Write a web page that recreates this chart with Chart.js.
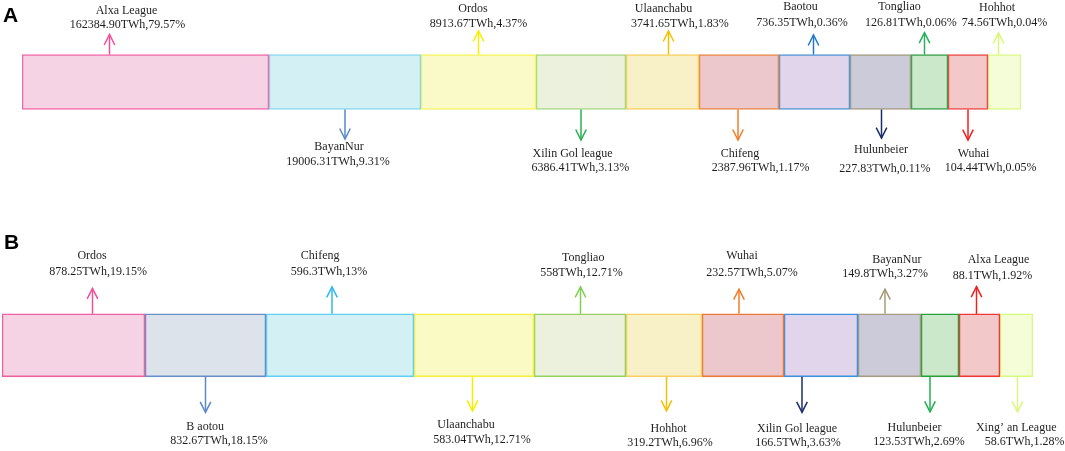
<!DOCTYPE html>
<html>
<head>
<meta charset="utf-8">
<script src="https://cdn.jsdelivr.net/npm/chart.js@4.4.0/dist/chart.umd.min.js"></script>
<style>
  html, body { margin: 0; padding: 0; background: #fff; }
  #wrap { position: relative; width: 1065px; height: 451px; overflow: hidden; }
  .panel { position: absolute; left: 0; width: 1065px; }
</style>
</head>
<body>
<div id="wrap">
  <div class="panel" style="top:0;height:200px"><canvas id="chartA"></canvas></div>
  <div class="panel" style="top:200px;height:251px"><canvas id="chartB"></canvas></div>
</div>
<script>
// ---- panel A ----
const regionsA = ['Alxa League', 'BayanNur', 'Ordos', 'Xilin Gol league', 'Ulaanchabu', 'Chifeng',
  'Baotou', 'Hulunbeier', 'Tongliao', 'Wuhai', 'Hohhot']
const energyA = [162384.90, 19006.31, 8913.67, 6386.41, 3741.65, 2387.96, 736.35, 227.83, 126.81, 104.44, 74.56]
const shareA = [79.57, 9.31, 4.37, 3.13, 1.83, 1.17, 0.36, 0.11, 0.06, 0.05, 0.04]
// box lengths as drawn in the figure (not proportional to the values)
const boxA = [247, 152, 115, 90, 73, 80, 71, 61, 37, 40, 33]

// ---- panel B ----
const regionsB = ['Ordos', 'B aotou', 'Chifeng', 'Ulaanchabu', 'Tongliao', 'Hohhot', 'Wuhai',
  'Xilin Gol league', 'BayanNur', 'Hulunbeier', 'Alxa League', 'Xing’ an League']
const energyB = [878.25, 832.67, 596.3, 583.04, 558, 319.2, 232.57, 166.5, 149.8, 123.53, 88.1, 58.6]
const shareB = [19.15, 18.15, 13, 12.71, 12.71, 6.96, 5.07, 3.63, 3.27, 2.69, 1.92, 1.28]
const boxB = [143, 121, 148, 120, 92, 76, 82, 74, 63, 38, 41, 33]

// styles
const fillA = ['#f5d3e5', '#d3f1f4', '#fafac8', '#ebf1dd', '#f8f1c8', '#ecc8cc', '#e0d5ea', '#cbcbd9', '#cbe8cb', '#f3c8c8', '#f5fdd8']
const edgeA = ['#f06aa8', '#88d8f0', '#f5f560', '#a8d880', '#f8d060', '#eb8848', '#5098d8', '#a49c80', '#38a048', '#f04848', '#dcf888']
const arrowA = ['#f0509a', '#5a88c8', '#f5f000', '#28b050', '#f5c000', '#f07c28', '#1f78d0', '#1c2c70', '#28b060', '#f02020', '#d8f870']

const fillB = ['#f5d3e5', '#dde3eb', '#d3f1f4', '#fafac4', '#ebf1dd', '#f8f1c8', '#ecc8cc', '#e0d5ea', '#cbcbd9', '#cbe8cb', '#f3c8c8', '#f5fdd8']
const edgeB = ['#f060a0', '#6890c8', '#60d0f8', '#f5f040', '#98d060', '#f8d060', '#eb7838', '#4090e0', '#a49c80', '#28a038', '#f03838', '#d8f880']
const arrowB = ['#f0509a', '#5a88c8', '#30b8f0', '#f5f000', '#80d050', '#f5c000', '#f07c28', '#1c2c70', '#a49c78', '#20b050', '#f02020', '#d8f880']

// callout layout: [arrow dx, name dx, value dx, arrow length, name offset, value offset] (px from box centre / edge)
const calloutA = [
  [-36, -19, -18, 20, 43.8, 30.1],
  [0, -6, -7, 29.5, 37.2, 52.2],
  [0, -5.5, 0, 23.5, 46.1, 31.1],
  [0, -8.5, -0.7, 30.5, 44.5, 57.9],
  [6, 1, 17.3, 23.5, 46.1, 31.1],
  [-1, 1, 21.6, 30.5, 44.5, 57.9],
  [-1, -14, -12.5, 19.5, 47.8, 31.8],
  [1, 0.5, 4.3, 28.7, 40.5, 58.9],
  [-5, -30, -18.7, 21.8, 47.8, 31.8],
  [0, 5.5, 22.6, 30.7, 44.5, 57.9],
  [-6, -7.5, 0, 21.5, 47.1, 31.8]
]
const calloutB = [
  [19, 18.6, 24.6, 25.4, 57.9, 42.2],
  [0, -0.3, 13.5, 35.6, 50, 64],
  [-8, -19.8, -11, 27, 57.9, 42.2],
  [-1.5, -8, 8, 34, 48, 63.4],
  [0.5, 3.2, 1.5, 27, 56.2, 41.5],
  [2.5, 4.5, 6, 34, 52.3, 65.7],
  [-4, -1, 9, 24.8, 57.9, 41.5],
  [-19, -24, -23, 35.6, 52.3, 65.7],
  [-4.5, 7.3, -4.3, 24.7, 53.9, 39.8],
  [-10, -25.5, -21, 35, 50.7, 65],
  [-3, 19, 13, 27.3, 54.5, 37.8],
  [1, -0.3, 8.2, 35, 50.7, 65]
]

const calloutPlugin = {
  id: 'callouts',
  afterDatasetsDraw(chart, args, opts) {
    let ctx = chart.ctx
    ctx.save()
    chart.data.datasets.forEach((ds, i) => {
      let bar = chart.getDatasetMeta(i).data[0]
      let { x, base, y, height } = bar.getProps(['x', 'base', 'y', 'height'], true)
      let cx = (x + base) / 2
      let L = opts.layout[i]
      let up = i % 2 === 0
      let dir = up ? -1 : 1
      let y0 = up ? y - height / 2 : y + height / 2
      let ax = cx + L[0]
      let tip = y0 + dir * L[3]

      ctx.strokeStyle = opts.arrowColors[i]
      ctx.lineWidth = 1.5
      ctx.beginPath()
      ctx.moveTo(ax, y0)
      ctx.lineTo(ax, tip)
      ctx.stroke()
      ctx.beginPath()
      ctx.moveTo(ax - 5.3, tip - dir * 10.5)
      ctx.lineTo(ax, tip)
      ctx.lineTo(ax + 5.3, tip - dir * 10.5)
      ctx.stroke()

      let fmt = v => opts.decimals == null ? String(v) : v.toFixed(opts.decimals)
      ctx.fillStyle = '#1e1e1e'
      ctx.font = '12px "Liberation Serif"'
      ctx.textAlign = 'center'
      ctx.textBaseline = 'middle'
      ctx.fillText(opts.names[i], cx + L[1], y0 + dir * L[4])
      ctx.fillText(fmt(opts.energy[i]) + 'TWh,' + fmt(opts.share[i]) + '%', cx + L[2], y0 + dir * L[5])
    })

    ctx.fillStyle = '#000'
    ctx.font = 'bold 21px "Liberation Sans"'
    ctx.textAlign = 'left'
    ctx.textBaseline = 'alphabetic'
    ctx.fillText(opts.letter, opts.letterX, opts.letterY)
    ctx.restore()
  }
}

function makePanel(id, cfg) {
  let datasets = cfg.box.map((w, i) => ({
    label: cfg.names[i],
    data: [w],
    backgroundColor: cfg.fill[i],
    borderColor: cfg.edge[i],
    borderWidth: 1.6,
    borderSkipped: false,
    barThickness: cfg.thickness
  }))
  let total = cfg.box.reduce((a, b) => a + b, 0)
  return new Chart(document.getElementById(id), {
    type: 'bar',
    data: { labels: [cfg.letter], datasets },
    options: {
      indexAxis: 'y',
      responsive: true,
      maintainAspectRatio: false,
      animation: false,
      layout: { padding: cfg.padding },
      scales: {
        x: { stacked: true, min: 0, max: total, display: false },
        y: { stacked: true, display: false }
      },
      plugins: {
        legend: { display: false },
        tooltip: { enabled: false },
        callouts: {
          layout: cfg.layout,
          arrowColors: cfg.arrow,
          names: cfg.names,
          energy: cfg.energy,
          share: cfg.share,
          decimals: cfg.decimals,
          letter: cfg.letter,
          letterX: cfg.letterX,
          letterY: cfg.letterY
        }
      }
    },
    plugins: [calloutPlugin]
  })
}

makePanel('chartA', {
  letter: 'A', letterX: 3, letterY: 22,
  names: regionsA, energy: energyA, share: shareA, box: boxA,
  fill: fillA, edge: edgeA, arrow: arrowA, layout: calloutA,
  decimals: 2, thickness: 55,
  padding: { left: 22, right: 44, top: 0, bottom: 36 }
})

makePanel('chartB', {
  letter: 'B', letterX: 4, letterY: 48.5,
  names: regionsB, energy: energyB, share: shareB, box: boxB,
  fill: fillB, edge: edgeB, arrow: arrowB, layout: calloutB,
  decimals: null, thickness: 63,
  padding: { left: 2, right: 32, top: 39.7, bottom: 0 }
})
</script>
</body>
</html>
